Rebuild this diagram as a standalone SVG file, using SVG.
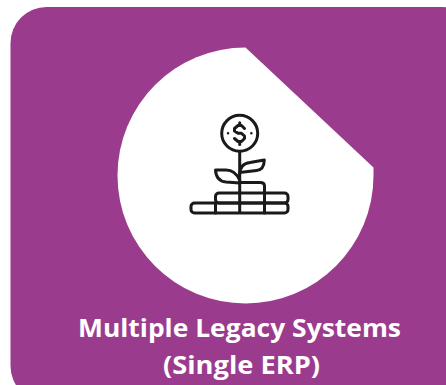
<svg xmlns="http://www.w3.org/2000/svg" width="446" height="385" viewBox="0 0 446 385">
<style>
.i{fill:none;stroke:#1a1a1a;stroke-width:3;stroke-linejoin:round;stroke-linecap:round}
.t{font-family:"Open Sans","Noto Sans","Liberation Sans",sans-serif;font-weight:700;font-size:25.5px;fill:#fff;text-anchor:middle}
</style>
<rect width="446" height="385" fill="#fff"/>
<g id="panel">
<rect x="10.5" y="7" width="468" height="395" rx="36" ry="36" fill="#9b3b8d"/>
<path d="M245.500 47.500A128 128 0 1 0 373.500 175.500L373.500 167.500Z" fill="#fff"/>
</g>
<g id="icon" class="i">
<circle cx="239.700" cy="133.300" r="18"/>
<path d="M244.500 128.500L241.500 125.500H238L234.500 128.500V131L238 133.300H241.500L244.500 136V138.500L241.500 141.500H238L234.500 138.500M239.700 122.800V125.500M239.700 141.500V144.500"/>
<path d="M228 133.300h.1M251.300 133.300h.1" stroke-width="2.400"/>
<path d="M239.700 151.500V212"/>
<path d="M239.700 174Q239.700 164 250 162.500L264.300 160Q264 170 256.500 170.500L239.700 172.500"/>
<path d="M239.700 180Q235 170 226 170H215.500Q216 181 226 182L239.700 183"/>
<path d="M239.700 182.500H260Q264.500 182.500 264.500 186V193"/>
<rect x="215.500" y="193" width="72.500" height="10" rx="3.500"/>
<rect x="191" y="203" width="97" height="10" rx="3.500"/>
<path d="M215.500 203V213M264.500 193V213"/>
</g>
<g id="label">
<text class="t" x="239.500" y="336.500" textLength="323" lengthAdjust="spacingAndGlyphs">Multiple Legacy Systems</text>
<text class="t" x="241.500" y="373.500" textLength="157" lengthAdjust="spacingAndGlyphs">(Single ERP)</text>
</g>
</svg>
